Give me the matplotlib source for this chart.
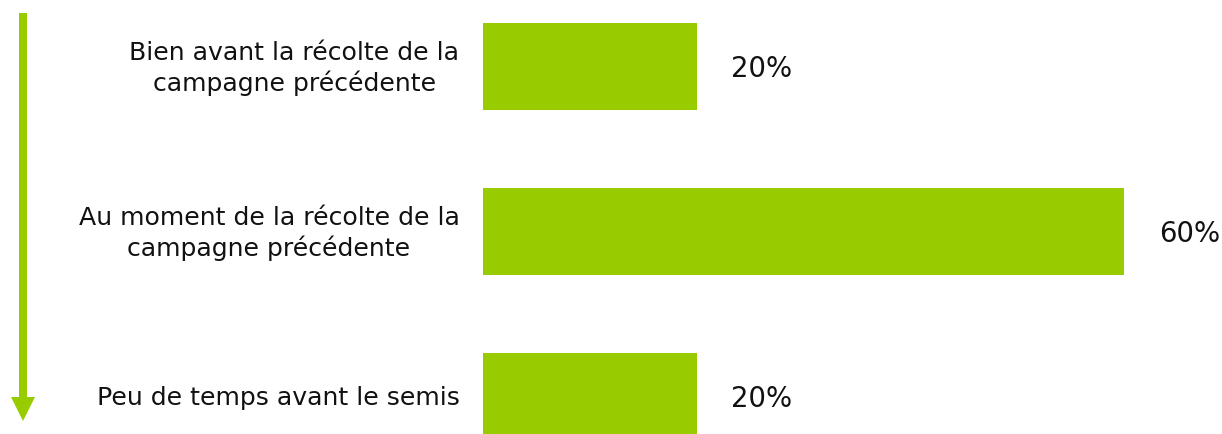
import matplotlib
matplotlib.use("Agg")
import matplotlib.pyplot as plt
from matplotlib.patches import FancyArrow

categories = [
    "Bien avant la récolte de la\ncampagne précédente",
    "Au moment de la récolte de la\ncampagne précédente",
    "Peu de temps avant le semis",
]
values = [20, 60, 20]
value_labels = ["20%", "60%", "20%"]

GREEN = "#99CC00"
W, H = 1222, 435
DPI = 100
FS = 18.1
FS_VAL = 19.8

fig = plt.figure(figsize=(W / DPI, H / DPI), dpi=DPI)
fig.patch.set_facecolor("white")

# main bar axes
ax = fig.add_axes([483 / W, 0, 641 / W, 1])
pos = list(range(len(categories)))
ax.barh(pos, values, height=87 / 165, color=GREEN)
ax.set_xlim(0, 60)
ax.set_ylim(2 + (435 - 397) / 165, -67 / 165)
ax.axis("off")

for p, v, lab, cat in zip(pos, values, value_labels, categories):
    ax.annotate(lab, xy=(v, p), xytext=(25, -1.5), textcoords="offset points",
                ha="left", va="center", fontsize=FS_VAL, color="#111111",
                annotation_clip=False)
    ax.annotate(cat, xy=(0, p), xytext=(-17, -1), textcoords="offset points",
                ha="right", va="center", multialignment="center",
                fontsize=FS, color="#111111", annotation_clip=False,
                linespacing=1.27)

# decorative arrow in pixel coordinates
ov = fig.add_axes([0, 0, 1, 1], facecolor="none")
ov.set_xlim(0, W)
ov.set_ylim(H, 0)
ov.axis("off")
ov.add_patch(FancyArrow(23, 14, 0, 408, width=8, head_width=24,
                        head_length=24, length_includes_head=True,
                        color=GREEN, linewidth=0))

fig.savefig("out.png", dpi=DPI, facecolor="white")
